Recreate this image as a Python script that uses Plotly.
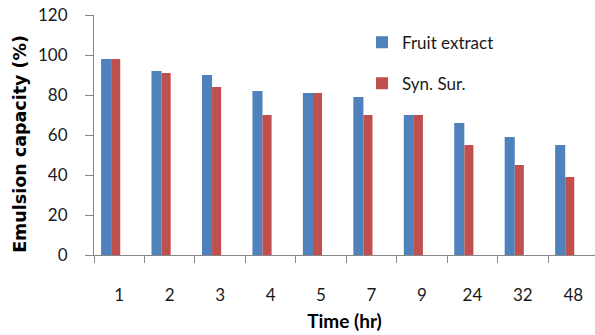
import plotly.graph_objects as go

# Emulsion capacity over time for the fruit extract vs. synthetic surfactant
time_labels = ["1", "2", "3", "4", "5", "7", "9", "24", "32", "48"]
fruit_extract = [98, 92, 90, 82, 81, 79, 70, 66, 59, 55]
syn_sur = [98, 91, 84, 70, 81, 70, 70, 55, 45, 39]

BLUE = "#4F81BD"
RED = "#C0504D"
AXIS_GRAY = "#878787"
FONT = "Lato"

fig = go.Figure()
fig.add_trace(go.Bar(
    x=time_labels, y=fruit_extract, name="Fruit extract",
    marker=dict(color=BLUE, line=dict(width=0)),
    width=0.2, offset=-0.36, legendgroup="a",
))
fig.add_trace(go.Bar(
    x=time_labels, y=syn_sur, name="Syn. Sur.",
    marker=dict(color=RED, line=dict(width=0)),
    width=0.18, offset=-0.16, legendgroup="b",
))

# Vertical y-axis title placed as an annotation so it can sit slightly low
fig.add_annotation(
    text="<b>Emulsion capacity (%)</b>", textangle=-90,
    xref="paper", yref="paper", x=-0.148, y=0.4625,
    xanchor="center", yanchor="middle", showarrow=False,
    font=dict(family="DejaVu Sans", size=17.5, color="#000"),
)

fig.update_layout(
    width=595, height=335,
    margin=dict(l=94, r=0, t=15, b=80),
    paper_bgcolor="white", plot_bgcolor="white",
    font=dict(family=FONT, size=17, color="#1a1a1a"),
    barmode="overlay",
    showlegend=True,
    legend=dict(
        x=0.535, y=0.96, xanchor="left", yanchor="top",
        font=dict(family=FONT, size=17, color="#1a1a1a"),
        tracegroupgap=16, bgcolor="rgba(0,0,0,0)",
    ),
    xaxis=dict(
        type="category", range=[-0.5, 9.43],
        showline=True, linecolor=AXIS_GRAY, linewidth=1,
        ticks="outside", tickson="boundaries", ticklen=7, tickcolor=AXIS_GRAY,
        ticklabelstandoff=25,
        tickfont=dict(family=FONT, size=17, color="#1a1a1a"),
        showgrid=False, zeroline=False,
        title=dict(text="<b>Time (hr)</b>", font=dict(family=FONT, size=19, color="#000"), standoff=10),
    ),
    yaxis=dict(
        range=[0, 120], tickvals=[0, 20, 40, 60, 80, 100, 120],
        showline=True, linecolor=AXIS_GRAY, linewidth=1,
        ticks="outside", ticklen=8, tickcolor=AXIS_GRAY,
        ticklabelstandoff=14,
        tickfont=dict(family=FONT, size=17, color="#1a1a1a"),
        showgrid=False, zeroline=False,
    ),
)

fig.write_html("out.html")
